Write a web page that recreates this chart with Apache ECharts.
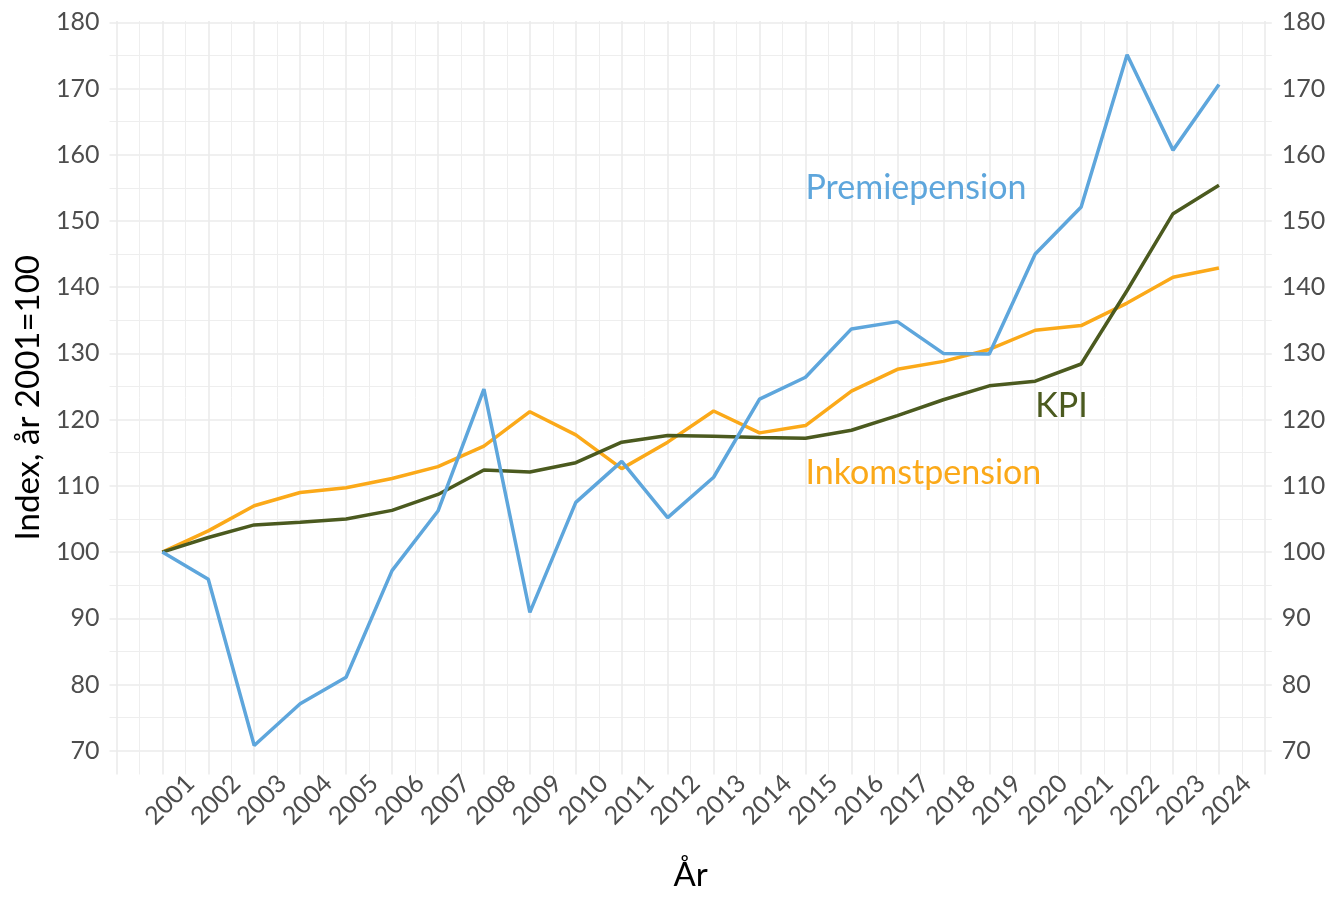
<!DOCTYPE html>
<html>
<head>
<meta charset="utf-8">
<script src="https://cdn.jsdelivr.net/npm/echarts@6/dist/echarts.min.js"></script>
<style>
  html, body { margin: 0; padding: 0; background: #fff; }
  #chart { width: 1341px; height: 897px; }
</style>
</head>
<body>
<div id="chart"></div>
<script>
// index 2001 = 100
const years = [2001, 2002, 2003, 2004, 2005, 2006, 2007, 2008, 2009, 2010, 2011, 2012,
  2013, 2014, 2015, 2016, 2017, 2018, 2019, 2020, 2021, 2022, 2023, 2024];
const premiepension = [100, 95.9, 70.8, 77.1, 81.1, 97.2, 106.2, 124.6, 90.9, 107.5, 113.7, 105.2,
  111.3, 123.1, 126.4, 133.7, 134.8, 130.0, 129.9, 145.0, 152.1, 175.1, 160.7, 170.6];
const inkomstpension = [100, 103.2, 107.0, 109.0, 109.7, 111.1, 112.9, 116.0, 121.2, 117.7, 112.6, 116.6,
  121.3, 118.0, 119.1, 124.3, 127.6, 128.8, 130.6, 133.5, 134.2, 137.6, 141.5, 142.9];
const kpi = [100, 102.2, 104.1, 104.5, 105.0, 106.3, 108.7, 112.4, 112.1, 113.5, 116.6, 117.6,
  117.5, 117.3, 117.2, 118.4, 120.6, 123.0, 125.1, 125.8, 128.4, 139.5, 151.1, 155.4];
const yTicks = [70, 80, 90, 100, 110, 120, 130, 140, 150, 160, 170, 180];

// where the series names are written (data coords, text starts at x)
const noteInkomst = [2015, 112];
const noteKpi = [2020, 122];
const notePremie = [2015, 155];

const FONT = 'Lato';
const TICK_COLOR = '#4d4d4d';
const COLORS = {ink: '#fba919', kpi: '#4b5a1f', pre: '#5ea6dc'};

let chart = echarts.init(document.getElementById('chart'));

function pairs(vals) {
  return years.map(function (y, i) { return [y, vals[i]]; });
}

function note(coord, text, color) {
  return {
    silent: true,
    symbolSize: 0,
    data: [{
      coord: coord,
      label: {
        show: true, formatter: text, position: 'right', distance: 0,
        color: color, fontSize: 34, fontFamily: FONT
      }
    }]
  };
}

const majorLine = {show: true, lineStyle: {color: '#ebebeb', width: 1.6}};
const minorLine = {show: true, lineStyle: {color: '#eeeeee', width: 1}};
const noAxis = {axisLine: {show: false}, axisTick: {show: false}};

let option = {
  animation: false,
  grid: [
    {left: 109.5, right: 69.2, top: 21, bottom: 117.8},   // data panel
    {left: 109.5, right: 69.2, top: 22.3, bottom: 146.3}, // y breaks 70..180
    {left: 116.4, right: 76.1, top: 21, bottom: 117.8},   // x breaks 2000..2025
    {left: 144.4, right: 48.1, top: 21, bottom: 117.8}    // x labels (shifted like the original)
  ],
  xAxis: [
    {gridIndex: 0, type: 'value', min: 1999.85, max: 2025.15, show: false},
    {gridIndex: 1, type: 'value', min: 0, max: 1, show: false},
    Object.assign({
      gridIndex: 2, type: 'value', min: 2000, max: 2025, interval: 1,
      name: 'År', nameLocation: 'middle', nameGap: 87,
      nameTextStyle: {fontSize: 33, lineHeight: 28, fontFamily: FONT, color: '#000'},
      axisLabel: {show: false},
      splitLine: majorLine,
      minorTick: {show: false, splitNumber: 2},
      minorSplitLine: minorLine
    }, noAxis),
    Object.assign({
      gridIndex: 3, type: 'value', min: 2000, max: 2025, interval: 1,
      splitLine: {show: false},
      axisLabel: {
        rotate: 45, margin: 0, fontSize: 25, fontFamily: FONT, color: TICK_COLOR,
        formatter: function (v) { return years.indexOf(v) >= 0 ? String(v) : ''; }
      }
    }, noAxis)
  ],
  yAxis: [
    {gridIndex: 0, type: 'value', min: 65.7, max: 180.2, show: false},
    Object.assign({
      gridIndex: 1, type: 'value', position: 'left', min: yTicks[0], max: yTicks[yTicks.length - 1], interval: 10,
      axisLabel: {margin: 10, fontSize: 25, fontFamily: FONT, color: TICK_COLOR},
      splitLine: majorLine,
      minorTick: {show: false, splitNumber: 2},
      minorSplitLine: minorLine
    }, noAxis),
    Object.assign({
      gridIndex: 1, type: 'value', position: 'right', min: yTicks[0], max: yTicks[yTicks.length - 1], interval: 10,
      axisLabel: {margin: 10, fontSize: 25, fontFamily: FONT, color: TICK_COLOR},
      splitLine: {show: false}
    }, noAxis),
    Object.assign({
      gridIndex: 2, type: 'value', position: 'left', min: 0, max: 1,
      name: 'Index, år 2001=100', nameLocation: 'middle', nameGap: 72,
      nameTextStyle: {fontSize: 33, fontFamily: FONT, color: '#000'},
      axisLabel: {show: false}, splitLine: {show: false}
    }, noAxis),
    {gridIndex: 3, type: 'value', min: 0, max: 1, show: false}
  ],
  series: [
    {
      name: 'Inkomstpension', type: 'line', xAxisIndex: 0, yAxisIndex: 0,
      data: pairs(inkomstpension), showSymbol: false,
      lineStyle: {color: COLORS.ink, width: 3.5}, itemStyle: {color: COLORS.ink},
      markPoint: note(noteInkomst, 'Inkomstpension', COLORS.ink)
    },
    {
      name: 'KPI', type: 'line', xAxisIndex: 0, yAxisIndex: 0,
      data: pairs(kpi), showSymbol: false,
      lineStyle: {color: COLORS.kpi, width: 3.5}, itemStyle: {color: COLORS.kpi},
      markPoint: note(noteKpi, 'KPI', COLORS.kpi)
    },
    {
      name: 'Premiepension', type: 'line', xAxisIndex: 0, yAxisIndex: 0,
      data: pairs(premiepension), showSymbol: false,
      lineStyle: {color: COLORS.pre, width: 3.5}, itemStyle: {color: COLORS.pre},
      markPoint: note(notePremie, 'Premiepension', COLORS.pre)
    }
  ]
};

chart.setOption(option);
window.addEventListener('resize', () => {
  chart.resize();
});
</script>
</body>
</html>
